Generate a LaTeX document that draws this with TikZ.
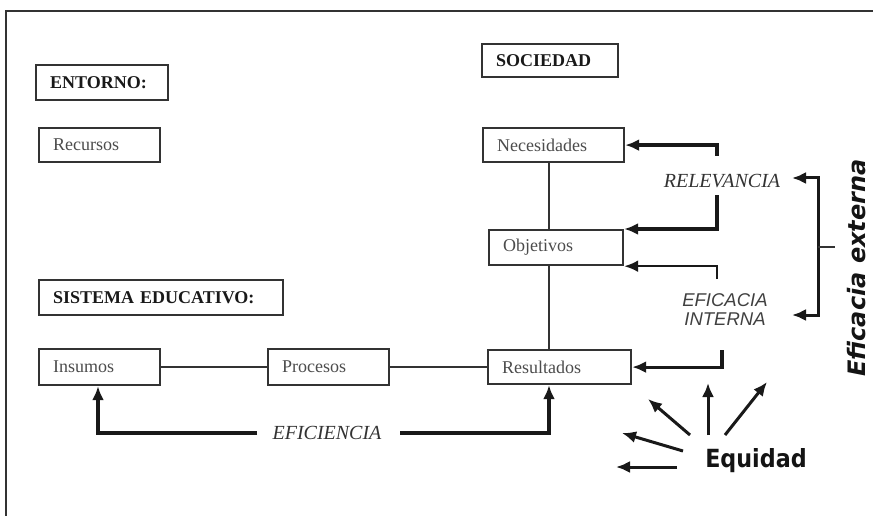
\documentclass[tikz,border=0pt]{standalone}
\usepackage{fontspec}
\setmainfont{Liberation Serif}
\newfontfamily\labelsans{Liberation Sans}
\newfontfamily\heavysans{DejaVu Sans}
\usetikzlibrary{arrows.meta,calc}

\begin{document}
\begin{tikzpicture}[x=1pt,y=-1pt,
  stage/.style={draw=black!80, line width=2.2pt, anchor=north west,
    inner xsep=14pt, inner ysep=0pt, align=left, text=black!70,
    font=\fontsize{18}{20}\selectfont},
  heading/.style={stage, text=black!90,
    font=\fontsize{18}{20}\selectfont\bfseries},
  link/.style={draw=black!80, line width=1.8pt},
  arr/.style={draw=black!90, line width=3.2pt,
    -{Latex[length=14pt,width=12pt]}},
  arrboth/.style={draw=black!90, line width=3pt,
    {Latex[length=14pt,width=12pt]}-{Latex[length=14pt,width=12pt]}},
  emph/.style={inner sep=0pt, text=black!80,
    font=\fontsize{20}{22}\selectfont\itshape},
  sansemph/.style={inner sep=0pt, text=black!75, align=center,
    font=\labelsans\fontsize{18.5}{20}\selectfont\itshape},
  bigword/.style={inner sep=0pt, text=black!92},
]
\useasboundingbox (0,0) rectangle (873,516);

% outer frame (left and top edges)
\coordinate (frBL) at (6,516);
\coordinate (frTL) at (6,11);
\coordinate (frTR) at (873,11);
\draw[black!80, line width=2.2pt] (frBL) -- (frTL) -- (frTR);

% headings
\node[heading, text width=104pt, minimum height=35pt] (entorno) at (35,64) {ENTORNO:};
\node[heading, text width=108pt, minimum height=33pt] (sociedad) at (481,43) {SOCIEDAD};
\node[heading, text width=216pt, minimum height=35pt] (sistema) at (38,279) {SISTEMA EDUCATIVO:};

% stage boxes
\node[stage, text width=93pt,  minimum height=34pt] (recursos)    at (38,127)  {Recursos};
\node[stage, text width=113pt, minimum height=34pt] (necesidades) at (482,127) {Necesidades};
\node[stage, text width=106pt, minimum height=35pt] (objetivos)   at (488,229) {Objetivos};
\node[stage, text width=115pt, minimum height=34pt] (resultados)  at (487,349) {Resultados};
\node[stage, text width=93pt,  minimum height=36pt] (insumos)     at (38,348)  {Insumos};
\node[stage, text width=93pt,  minimum height=36pt] (procesos)    at (267,348) {Procesos};

% plain connections
\coordinate (vx) at (549,0);
\draw[link] (necesidades.south -| vx) -- (objetivos.north -| vx);
\draw[link] (objetivos.south -| vx) -- (resultados.north -| vx);
\draw[link] (insumos.east) -- (procesos.west);
\draw[link] (procesos.east) -- (resultados.west);

% efficiency loop
\node[emph] (eficiencia) at (327,433) {EFICIENCIA};
\coordinate (colIns) at (98,0);
\coordinate (effL) at (257,433);
\coordinate (effR) at (400,433);
\draw[arr] (effL) -| (insumos.south -| colIns);
\draw[arr] (effR) -| (resultados.south -| vx);

% relevance
\node[emph] (relevancia) at (722,181) {RELEVANCIA};
\coordinate (relTop) at (717,156);
\coordinate (relBot) at (717,195);
\draw[arr] (relTop) |- (necesidades.east);
\draw[arr] (relBot) |- (objetivos.north east);

% internal efficacy
\node[sansemph] (interna) at (725,310) {EFICACIA\\[-1pt]INTERNA};
\coordinate (eiTop) at (717,279);
\coordinate (eiBot) at (722,350);
\draw[arr, line width=2.4pt] (eiTop) |- (objetivos.south east);
\draw[arr] (eiBot) |- (resultados.east);

% external efficacy bracket
\coordinate (relTip) at (792,178);
\coordinate (eiTip) at (792,315);
\coordinate (brT) at (818,178);
\coordinate (brB) at (818,315);
\coordinate (brM) at (818,247);
\coordinate (tickEnd) at (835,247);
\draw[arrboth] (relTip) -- (brT) -- (brB) -- (eiTip);
\draw[link, line width=1.5pt] (brM) -- (tickEnd);
\node[bigword, rotate=90, font=\heavysans\fontsize{24}{26}\selectfont\bfseries\itshape]
  (externa) at (857,268) {Eficacia externa};

% equity
\node[bigword, font=\heavysans\fontsize{25}{28}\selectfont\bfseries]
  (equidad) at (756,461) {\scalebox{0.89}[1]{Equidad}};
\coordinate (eqA) at (677,467); \coordinate (eqAt) at (616,467);
\coordinate (eqB) at (683,451); \coordinate (eqBt) at (622,433);
\coordinate (eqC) at (690,435); \coordinate (eqCt) at (648,399);
\coordinate (eqD) at (708,435); \coordinate (eqDt) at (708,383);
\coordinate (eqE) at (725,435); \coordinate (eqEt) at (767,382);
\foreach \s/\t in {eqA/eqAt, eqB/eqBt, eqC/eqCt, eqD/eqDt, eqE/eqEt}
  \draw[arr, line width=3pt] (\s) -- (\t);
\end{tikzpicture}
\end{document}
